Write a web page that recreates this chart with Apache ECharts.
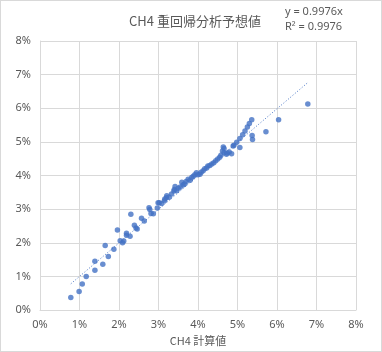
<!DOCTYPE html>
<html>
<head>
<meta charset="utf-8">
<script src="https://cdn.jsdelivr.net/npm/echarts@6/dist/echarts.min.js"></script>
<style>
html,body{margin:0;padding:0;background:#fff;}
#c{width:380px;height:350px;border:1px solid #d9d9d9;}
</style>
</head>
<body>
<div id="c"></div>
<script>
const titleText = 'CH4 重回帰分析予想値';
const xAxisName = 'CH4 計算値';
const eqLine1 = 'y = 0.9976x';
const eqLine2 = 'R² = 0.9976';
const trendSlope = 0.9976;
const tickValues = [0, 1, 2, 3, 4, 5, 6, 7, 8];

const calcValues = [0.78,0.99,1.07,1.17,1.39,1.39,1.59,1.65,1.73,1.87,1.96,2.03,2.09,2.12,2.19,2.19,2.28,2.30,2.39,2.43,2.46,2.57,2.64,2.76,2.78,2.81,2.87,2.97,2.99,3.02,3.08,3.15,3.16,3.20,3.21,3.27,3.33,3.39,3.40,3.42,3.46,3.50,3.55,3.59,3.62,3.66,3.70,3.75,3.80,3.84,3.88,3.92,3.96,4.00,4.05,4.08,4.13,4.17,4.22,4.25,4.30,4.35,4.40,4.45,4.50,4.55,4.58,4.62,4.64,4.66,4.66,4.72,4.74,4.79,4.85,4.89,4.91,4.98,5.06,5.06,5.13,5.19,5.25,5.30,5.36,5.37,5.38,5.72,6.04,6.78];
const predValues = [0.37,0.55,0.77,1.00,1.18,1.45,1.36,1.92,1.59,1.81,2.38,2.06,2.00,2.05,2.22,2.28,2.19,2.85,2.52,2.44,2.41,2.73,2.65,3.04,2.99,2.87,2.86,3.03,3.19,3.19,3.17,3.25,3.30,3.34,3.40,3.35,3.45,3.54,3.58,3.67,3.55,3.62,3.66,3.80,3.72,3.75,3.82,3.89,3.86,3.94,3.98,4.02,4.08,4.02,4.04,4.10,4.14,4.20,4.22,4.28,4.30,4.34,4.38,4.44,4.49,4.54,4.60,4.73,4.85,4.80,4.68,4.63,4.67,4.70,4.65,4.88,4.90,4.99,5.10,4.83,5.21,5.32,5.44,5.55,5.66,5.19,5.07,5.30,5.66,6.13];

const points = calcValues.map((x, i) => [x, predValues[i]]);
const xMinData = Math.min(...calcValues);
const xMaxData = Math.max(...calcValues);
const trend = [[xMinData, xMinData * trendSlope], [xMaxData, xMaxData * trendSlope]];

const chart = echarts.init(document.getElementById('c'));
const txt = '#595959';
const grid = '#d9d9d9';
chart.setOption({
  animation: false,
  title: [
    {text: titleText, left: 189, top: 9, textAlign: 'center',
     textStyle: {fontSize: 13, fontWeight: 'normal', color: txt, fontFamily: 'Noto Sans CJK JP'}},
    {text: eqLine1 + '\n' + eqLine2, left: 284, top: 3, padding: 0,
     textStyle: {fontSize: 11, fontWeight: 'normal', color: txt, lineHeight: 15, fontFamily: 'Noto Sans'}}
  ],
  grid: {left: 39, right: 25, top: 40, bottom: 39},
  xAxis: {
    type: 'value', min: tickValues[0], max: tickValues[tickValues.length - 1], interval: 1,
    name: xAxisName, nameLocation: 'middle', nameGap: 25,
    nameTextStyle: {color: txt, fontSize: 11, fontFamily: 'Noto Sans CJK JP'},
    axisLine: {show: true, lineStyle: {color: grid}},
    axisTick: {show: false},
    axisLabel: {color: txt, fontSize: 11, margin: 9, formatter: v => v + '%', fontFamily: 'Noto Sans'},
    splitLine: {show: true, lineStyle: {color: grid}}
  },
  yAxis: {
    type: 'value', min: tickValues[0], max: tickValues[tickValues.length - 1], interval: 1,
    axisLine: {show: true, lineStyle: {color: grid}},
    axisTick: {show: false},
    axisLabel: {color: txt, fontSize: 11, margin: 9, formatter: v => v + '%', fontFamily: 'Noto Sans'},
    splitLine: {show: true, lineStyle: {color: grid}}
  },
  series: [
    {type: 'line', data: trend, symbol: 'none', silent: true,
     lineStyle: {color: '#4472C4', width: 1, type: [1, 2]}, z: 1},
    {type: 'scatter', data: points, symbol: 'circle', symbolSize: 5.5,
     itemStyle: {color: '#4472C4'}, z: 2}
  ]
});
</script>
</body>
</html>
